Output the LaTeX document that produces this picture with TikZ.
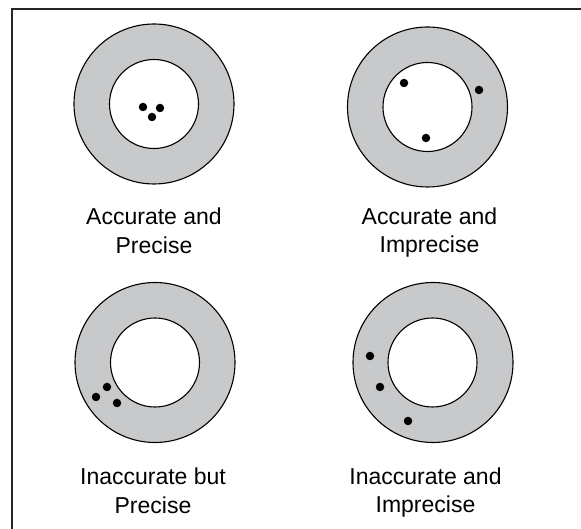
\documentclass[tikz,border=0pt]{standalone}
\usepackage{fontspec}
\setmainfont{Liberation Sans}
\definecolor{ringgray}{RGB}{200,201,203}

\begin{document}
\begin{tikzpicture}[x=1pt,y=1pt,
  ring/.style={fill=ringgray,draw=black,line width=1.1pt},
  hole/.style={fill=white,draw=black,line width=1.1pt},
  shot/.style={circle,fill=black,inner sep=0pt,minimum size=8.5pt},
  caption/.style={align=center,inner sep=0pt,font=\fontsize{23}{28.7}\selectfont}]
\useasboundingbox (0,0) rectangle (581,529);
\draw[black!85,line width=1.2pt] (12,-2) -- (12,520) -- (583,520);
\draw[ring] (154,425) circle (80); \draw[hole] (154,425) circle (44.5);
\node[shot] (tl1) at (143,422) {}; \node[shot] (tl2) at (160,421) {}; \node[shot] (tl3) at (152,412) {};
\node[caption] (tlcap) at (154,298.5) {Accurate and\\Precise};
\draw[ring] (427.5,422) circle (80); \draw[hole] (427.5,422) circle (44.5);
\node[shot] (tr1) at (404,446) {}; \node[shot] (tr2) at (479,439) {}; \node[shot] (tr3) at (426,391) {};
\node[caption] (trcap) at (429.5,296.5) {Accurate and\\Imprecise};
\draw[ring] (155,166.5) circle (80); \draw[hole] (155,166.5) circle (44.5);
\node[shot] (bl1) at (96,132) {}; \node[shot] (bl2) at (107,142) {}; \node[shot] (bl3) at (117,126) {};
\node[caption] (blcap) at (153,38.5) {Inaccurate but\\Precise};
\draw[ring] (433,166.5) circle (80); \draw[hole] (432.5,166.5) circle (44.5);
\node[shot] (br1) at (370,173) {}; \node[shot] (br2) at (380,142) {}; \node[shot] (br3) at (408,108) {};
\node[caption] (brcap) at (425.5,36.5) {Inaccurate and\\Imprecise};
\end{tikzpicture}
\end{document}
